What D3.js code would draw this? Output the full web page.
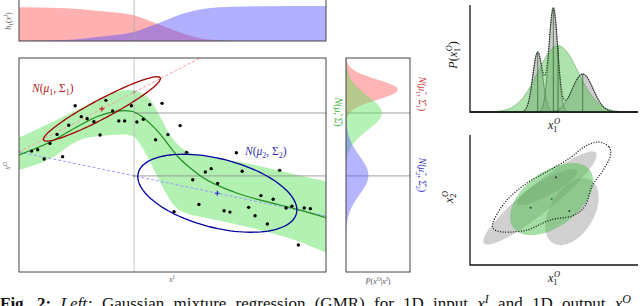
<!DOCTYPE html>
<html>
<head>
<meta charset="utf-8">
<script src="https://cdn.jsdelivr.net/npm/d3@7"></script>
<style>body{margin:0;background:#fff}svg{display:block}</style>
</head>
<body>
<div id="chart"></div>
<script>
var width = 640,
  height = 306;

// left panel: samples (x^I, x^O)
var ptX = [0.041,0.061,0.082,0.101,0.124,0.142,0.162,0.183,0.203,0.222,0.244,0.264,0.283,0.305,0.325,0.344,0.366,0.384,0.405,0.426,0.445,0.466,0.485,0.505,0.525,0.546,0.566,0.586,0.607,0.626,0.647,0.668,0.687,0.708,0.727,0.748,0.769,0.788,0.809,0.828,0.849,0.870,0.889,0.910,0.929,0.949];
var ptY = [0.565,0.571,0.528,0.601,0.643,0.539,0.686,0.777,0.726,0.716,0.702,0.640,0.802,0.752,0.706,0.706,0.777,0.701,0.714,0.782,0.618,0.788,0.642,0.282,0.684,0.559,0.431,0.316,0.467,0.483,0.414,0.286,0.280,0.557,0.471,0.302,0.263,0.357,0.224,0.340,0.475,0.299,0.307,0.126,0.299,0.296];

// GMR mean and band
var gmrX    = [0, 0.1, 0.2, 0.26, 0.3, 0.34, 0.37, 0.4, 0.43, 0.46, 0.49, 0.52, 0.55, 0.6, 0.7, 0.8, 0.9, 1.0];
var gmrMean = [0.547, 0.606, 0.687, 0.729, 0.746, 0.754, 0.750, 0.727, 0.690, 0.644, 0.588, 0.535, 0.495, 0.440, 0.374, 0.331, 0.295, 0.254];
var gmrHigh = [0.628, 0.695, 0.765, 0.808, 0.833, 0.848, 0.850, 0.835, 0.800, 0.724, 0.645, 0.592, 0.562, 0.543, 0.519, 0.490, 0.456, 0.424];
var gmrLow  = [0.477, 0.528, 0.618, 0.634, 0.640, 0.643, 0.635, 0.585, 0.505, 0.420, 0.340, 0.292, 0.272, 0.256, 0.226, 0.190, 0.148, 0.090];

// two gaussian components
var compMu = [[0.270, 0.762], [0.646, 0.368]];
var compSigma = [[[0.0363, 0.0270], [0.0270, 0.0226]], [[0.0671, -0.0201], [-0.0201, 0.0332]]];
var compColor = ['#a00000', '#0000a0'];
var queryX = 0.375;

// activation h_i(x^I)
var hX = [0, 0.15, 0.26, 0.37, 0.45, 0.53, 0.61, 0.7, 0.8, 1.0];
var h1 = [0.965, 0.935, 0.86, 0.745, 0.49, 0.23, 0.05, 0.01, 0.0, 0.0];
var h2 = [0.01, 0.03, 0.12, 0.25, 0.49, 0.77, 0.93, 0.98, 0.995, 1.0];

// conditional densities at queryX: red, green, blue
var condMean = [0.852, 0.743, 0.452];
var condSd = [0.047, 0.08, 0.09];
var condPeak = [0.81, 0.56, 0.35];
var condColor = ['#ff5a5a', '#5ee05e', '#5a5aff'];
var hLineY = [0.743, 0.449];

// top right: 1D product of experts
var trMean = [4.03, 4.96, 6.71];
var trSd = [0.29, 0.26, 0.62];
var trPeak = [0.56, 0.97, 0.355];
var prodMean = 5.24, prodSd = 1.19, prodPeak = 0.62;

// bottom right: 2D ellipses
var grayCx = [-0.667, 0.857, -0.333];
var grayCy = [0.095, -0.558, 0.62];
var grayA = [3.43, 1.75, 1.63];
var grayB = [0.67, 1.05, 0.39];
var grayAng = [39, 59, 29];
var greenC = [-0.11, 0.047], greenA = 2.28, greenB = 1.30, greenAng = 37;
var dotX = [0.095, -1.110, 0.729];
var dotY = [1.082, -0.368, -0.525];
var contourX = [2.095, 2.619, 2.667, 2.286, 1.810, 1.476, 0.857, -0.190, -1.286, -2.429, -2.905, -2.810, -2.238, -1.286, -0.190, 0.762, 1.429];
var contourY = [2.766, 2.527, 2.050, 1.335, 0.667, -0.286, -0.763, -0.954, -1.431, -1.526, -1.336, -0.859, 0.0, 0.810, 1.430, 2.002, 2.527];


var xMain = d3.scaleLinear().domain([0, 1]).range([19, 326]);
var yMain = d3.scaleLinear().domain([0, 1]).range([272, 58]);
var yTop = d3.scaleLinear().domain([0, 1]).range([41, 6]);
var xDens = d3.scaleLinear().domain([0, 1]).range([346, 410]);
var xTR = d3.scaleLinear().domain([0, 10]).range([470, 638]);
var yTR = d3.scaleLinear().domain([0, 1]).range([112, 5]);
var xBR = d3.scaleLinear().domain([-4, 4]).range([470, 638]);
var yBR = d3.scaleLinear().domain([-3.1, 3.1]).range([265, 135]);

var serif = 'Liberation Serif, DejaVu Serif, serif';

var svg = d3.select('#chart').append('svg')
  .attr('width', width)
  .attr('height', height);

svg.append('defs').append('clipPath').attr('id', 'mainclip')
  .append('rect').attr('x', 19).attr('y', 58).attr('width', 307).attr('height', 214);

// parts: [text, 'sub'|'sup'|'', italic, dx]
function mathText(x, y, parts, size, color, rot, anchor) {
  var t = svg.append('text')
    .attr('transform', 'translate(' + x + ',' + y + ')' + (rot ? ' rotate(' + rot + ')' : ''))
    .attr('font-family', serif)
    .attr('font-size', size)
    .attr('fill', color)
    .attr('text-anchor', anchor || 'middle');
  var shift = 0;
  parts.forEach(function (p) {
    var target = p[1] == 'sub' ? size * 0.28 : p[1] == 'sup' ? -size * 0.4 : 0;
    var ts = t.append('tspan')
      .attr('dy', target - shift)
      .attr('font-size', p[1] ? size * 0.7 : size)
      .attr('font-style', p[2] ? 'italic' : 'normal')
      .text(p[0]);
    if (p[3]) ts.attr('dx', p[3]);
    shift = target;
  });
  return t;
}

function gauss(x, m, s, h) { return h * Math.exp(-(x - m) * (x - m) / (2 * s * s)); }

function ellipseCov(mu, S, n) {
  var a = S[0][0], b = S[0][1], d = S[1][1];
  var tr = (a + d) / 2, disc = Math.sqrt((a - d) * (a - d) / 4 + b * b);
  var l1 = tr + disc, l2 = tr - disc;
  var ex = b, ey = l1 - a;
  var len = Math.hypot(ex, ey); ex /= len; ey /= len;
  return d3.range(n + 1).map(function (i) {
    var t = i / n * 2 * Math.PI;
    var u = Math.sqrt(l1) * Math.cos(t), v = Math.sqrt(l2) * Math.sin(t);
    return [mu[0] + u * ex - v * ey, mu[1] + u * ey + v * ex];
  });
}

function ellipseRot(cx, cy, a, b, ang, n) {
  var th = ang * Math.PI / 180;
  return d3.range(n + 1).map(function (i) {
    var t = i / n * 2 * Math.PI;
    var u = a * Math.cos(t), v = b * Math.sin(t);
    return [cx + u * Math.cos(th) - v * Math.sin(th), cy + u * Math.sin(th) + v * Math.cos(th)];
  });
}

// ---------- top panel: h_i ----------
var hData = hX.map(function (x, i) { return { x: x, h1: h1[i], h2: h2[i] }; });
svg.append('path').datum(hData)
  .attr('d', d3.area().curve(d3.curveMonotoneX).x(function (d) { return xMain(d.x); })
    .y0(yTop(0)).y1(function (d) { return yTop(d.h1); }))
  .attr('fill', '#ff5050').attr('fill-opacity', 0.45);
svg.append('path').datum(hData)
  .attr('d', d3.area().curve(d3.curveMonotoneX).x(function (d) { return xMain(d.x); })
    .y0(yTop(0)).y1(function (d) { return yTop(d.h2); }))
  .attr('fill', '#5050ff').attr('fill-opacity', 0.45);
svg.append('line')
  .attr('x1', xMain(queryX)).attr('x2', xMain(queryX)).attr('y1', 0).attr('y2', yTop(0))
  .attr('stroke', '#aaa').attr('stroke-width', 0.8);
svg.append('rect').attr('x', 19).attr('y', -2).attr('width', 307).attr('height', 43)
  .attr('fill', 'none').attr('stroke', '#444').attr('stroke-width', 1);
mathText(11, 21, [['h', '', 1], ['1', 'sub', 0], ['(', '', 0], ['x', '', 1], ['I', 'sup', 1], [')', '', 0]], 8, '#555', -90);

// ---------- main panel ----------
var main = svg.append('g').attr('clip-path', 'url(#mainclip)');
var bandData = gmrX.map(function (x, i) { return { x: x, m: gmrMean[i], lo: gmrLow[i], hi: gmrHigh[i] }; });
main.append('path').datum(bandData)
  .attr('d', d3.area().curve(d3.curveMonotoneX).x(function (d) { return xMain(d.x); })
    .y0(function (d) { return yMain(d.lo); }).y1(function (d) { return yMain(d.hi); }))
  .attr('fill', '#7ee87e').attr('fill-opacity', 0.6);

main.append('line')
  .attr('x1', xMain(queryX)).attr('x2', xMain(queryX)).attr('y1', 58).attr('y2', 272)
  .attr('stroke', '#bbb').attr('stroke-width', 0.8);
hLineY.forEach(function (v) {
  main.append('line').attr('x1', xMain(queryX)).attr('x2', xMain(1)).attr('y1', yMain(v)).attr('y2', yMain(v))
    .attr('stroke', '#888').attr('stroke-width', 0.8);
  svg.append('line').attr('x1', xDens(0)).attr('x2', xDens(1)).attr('y1', yMain(v)).attr('y2', yMain(v))
    .attr('stroke', '#888').attr('stroke-width', 0.8);
});

// regression lines of each component
var dashCol = ['#ff9a9a', '#9a9aff'];
compMu.forEach(function (mu, k) {
  var S = compSigma[k], slope = S[0][1] / S[0][0];
  var f = function (x) { return mu[1] + slope * (x - mu[0]); };
  main.append('line')
    .attr('x1', xMain(0)).attr('y1', yMain(f(0))).attr('x2', xMain(1)).attr('y2', yMain(f(1)))
    .attr('stroke', dashCol[k]).attr('stroke-width', 1).attr('stroke-dasharray', '3,2');
  main.append('circle').attr('cx', xMain(queryX)).attr('cy', yMain(f(queryX))).attr('r', 1.3).attr('fill', '#999');
});

main.append('path').datum(bandData)
  .attr('d', d3.line().curve(d3.curveMonotoneX).x(function (d) { return xMain(d.x); }).y(function (d) { return yMain(d.m); }))
  .attr('fill', 'none').attr('stroke', '#1e8c1e').attr('stroke-width', 1.2);

var ell = d3.line().x(function (d) { return xMain(d[0]); }).y(function (d) { return yMain(d[1]); });
compMu.forEach(function (mu, k) {
  main.append('path').attr('d', ell(ellipseCov(mu, compSigma[k], 120)))
    .attr('fill', 'none').attr('stroke', compColor[k]).attr('stroke-width', 1.3);
  var cx = xMain(mu[0]), cy = yMain(mu[1]);
  main.append('path').attr('d', 'M' + (cx - 2.5) + ',' + cy + 'H' + (cx + 2.5) + 'M' + cx + ',' + (cy - 2.5) + 'V' + (cy + 2.5))
    .attr('stroke', k == 0 ? '#c02020' : '#3030d0').attr('stroke-width', 1.2);
});

main.selectAll('.pt').data(ptX).enter().append('circle')
  .attr('cx', function (d) { return xMain(d); })
  .attr('cy', function (d, i) { return yMain(ptY[i]); })
  .attr('r', 1.7).attr('fill', '#000');

svg.append('rect').attr('x', 19).attr('y', 58).attr('width', 307).attr('height', 214)
  .attr('fill', 'none').attr('stroke', '#444').attr('stroke-width', 1);

mathText(32, 92, [['N', '', 1], ['(', '', 0], ['μ', '', 1], ['1', 'sub', 0], [', Σ', '', 0], ['1', 'sub', 0], [')', '', 0]], 11.5, '#b02020', 0, 'start');
mathText(245, 155, [['N', '', 1], ['(', '', 0], ['μ', '', 1], ['2', 'sub', 0], [', Σ', '', 0], ['2', 'sub', 0], [')', '', 0]], 11.5, '#3030b0', 0, 'start');
mathText(172, 282, [['x', '', 1], ['I', 'sup', 1]], 8, '#666', 0);
mathText(10, 166, [['x', '', 1], ['O', 'sup', 1]], 8, '#666', -90);

// ---------- right panel: conditional densities ----------
var ys = d3.range(0, 1.0001, 0.004);
condMean.forEach(function (m, k) {
  svg.append('path').datum(ys)
    .attr('d', d3.area().y(function (d) { return yMain(d); }).x0(xDens(0))
      .x1(function (d) { return xDens(gauss(d, m, condSd[k], condPeak[k])); }))
    .attr('fill', condColor[k]).attr('fill-opacity', 0.45);
});
svg.append('rect').attr('x', 346).attr('y', 58).attr('width', 64).attr('height', 214)
  .attr('fill', 'none').attr('stroke', '#444').attr('stroke-width', 1);
mathText(378, 284, [['P', '', 1], ['(', '', 0], ['x', '', 1], ['O', 'sup', 1], ['|', '', 0], ['x', '', 1], ['I', 'sup', 1], [')', '', 0]], 8, '#555', 0);
mathText(335, 112, [['N', '', 1], ['(', '', 0], ['μ\u0302', '', 1], [', Σ\u0302', '', 0], [')', '', 0]], 10, '#3cb43c', 90);
mathText(419, 94, [['N', '', 1], ['(', '', 0], ['μ\u0302', '', 1], ['1', 'sub', 0], [', Σ\u0302', '', 0], ['1', 'sub', 0], [')', '', 0]], 9.5, '#c83232', 90);
mathText(419, 175, [['N', '', 1], ['(', '', 0], ['μ\u0302', '', 1], ['2', 'sub', 0], [', Σ\u0302', '', 0], ['2', 'sub', 0], [')', '', 0]], 9.5, '#3232c8', 90);

// ---------- top right ----------
var xs = d3.range(0, 10.0001, 0.02);
trMean.forEach(function (m, k) {
  svg.append('path').datum(xs)
    .attr('d', d3.area().x(function (d) { return xTR(d); }).y0(yTR(0))
      .y1(function (d) { return yTR(gauss(d, m, trSd[k], trPeak[k])); }))
    .attr('fill', '#909090').attr('fill-opacity', 0.45)
    .attr('stroke', '#444').attr('stroke-width', 0.7);
});
svg.append('path').datum(xs)
  .attr('d', d3.area().x(function (d) { return xTR(d); }).y0(yTR(0))
    .y1(function (d) { return yTR(gauss(d, prodMean, prodSd, prodPeak)); }))
  .attr('fill', '#4cc04c').attr('fill-opacity', 0.45)
  .attr('stroke', '#5a9a5a').attr('stroke-width', 0.6);
trMean.concat([prodMean]).forEach(function (m, k) {
  var top = k < 3 ? trPeak[k] : prodPeak;
  svg.append('line').attr('x1', xTR(m)).attr('x2', xTR(m)).attr('y1', yTR(0)).attr('y2', yTR(top))
    .attr('stroke', '#2f6a2f').attr('stroke-width', 1).attr('stroke-opacity', 0.8);
});
svg.append('path').datum(xs)
  .attr('d', d3.line().x(function (d) { return xTR(d); })
    .y(function (d) { return yTR(d3.sum(trMean, function (m, k) { return gauss(d, m, trSd[k], trPeak[k]); })); }))
  .attr('fill', 'none').attr('stroke', '#111').attr('stroke-width', 1.1).attr('stroke-dasharray', '1,1.4');
svg.append('path').attr('d', 'M' + xTR(0) + ',' + yTR(1) + 'V' + yTR(0) + 'H' + xTR(10))
  .attr('fill', 'none').attr('stroke', '#111').attr('stroke-width', 1.3);
mathText(457, 55, [['P', '', 1], ['(', '', 0], ['x', '', 1], ['1', 'sub', 0], ['O', 'sup', 1, -3.5], [')', '', 0]], 12, '#111', -90);
mathText(554, 129, [['x', '', 1], ['1', 'sub', 0], ['O', 'sup', 1, -3.5]], 12, '#111', 0);

// ---------- bottom right ----------
var eLine = d3.line().x(function (d) { return xBR(d[0]); }).y(function (d) { return yBR(d[1]); });
grayCx.forEach(function (cx, k) {
  svg.append('path').attr('d', eLine(ellipseRot(cx, grayCy[k], grayA[k], grayB[k], grayAng[k], 90)))
    .attr('fill', '#8a8a8a').attr('fill-opacity', 0.4);
});
svg.append('path').attr('d', eLine(ellipseRot(greenC[0], greenC[1], greenA, greenB, greenAng, 90)))
  .attr('fill', '#4cc04c').attr('fill-opacity', 0.5);
dotX.forEach(function (x, k) {
  svg.append('circle').attr('cx', xBR(x)).attr('cy', yBR(dotY[k])).attr('r', 1).attr('fill', '#333');
});
svg.append('circle').attr('cx', xBR(greenC[0])).attr('cy', yBR(greenC[1])).attr('r', 1).attr('fill', '#1a8a1a');
svg.append('path').datum(contourX.map(function (x, i) { return [x, contourY[i]]; }))
  .attr('d', eLine.curve(d3.curveCardinalClosed))
  .attr('fill', 'none').attr('stroke', '#111').attr('stroke-width', 1.3).attr('stroke-dasharray', '1,1.6');
svg.append('path').attr('d', 'M' + xBR(-4) + ',' + yBR(3.1) + 'V' + yBR(-3.1) + 'H' + xBR(4))
  .attr('fill', 'none').attr('stroke', '#111').attr('stroke-width', 1.3);
mathText(453, 197, [['x', '', 1], ['2', 'sub', 0], ['O', 'sup', 1, -3.5]], 12, '#111', -90);
mathText(554, 282, [['x', '', 1], ['1', 'sub', 0], ['O', 'sup', 1, -3.5]], 12, '#111', 0);

// ---------- caption (cut by the bottom edge, as in the source) ----------
var cap = svg.append('text').attr('x', 0).attr('y', 309)
  .attr('font-family', serif).attr('font-size', 17).attr('fill', '#111')
  .attr('word-spacing', 5);
cap.append('tspan').attr('font-weight', 'bold').text('Fig. 2: ');
cap.append('tspan').attr('font-style', 'italic').text('Left: ');
cap.append('tspan').text('Gaussian mixture regression (GMR) for 1D input ');
cap.append('tspan').attr('font-style', 'italic').text('x');
cap.append('tspan').attr('font-size', 12).attr('dy', -6).attr('font-style', 'italic').text('I');
cap.append('tspan').attr('dy', 6).text(' and 1D output ');
cap.append('tspan').attr('font-style', 'italic').text('x');
cap.append('tspan').attr('font-size', 12).attr('dy', -6).attr('font-style', 'italic').text('O');
</script>
</body>
</html>
